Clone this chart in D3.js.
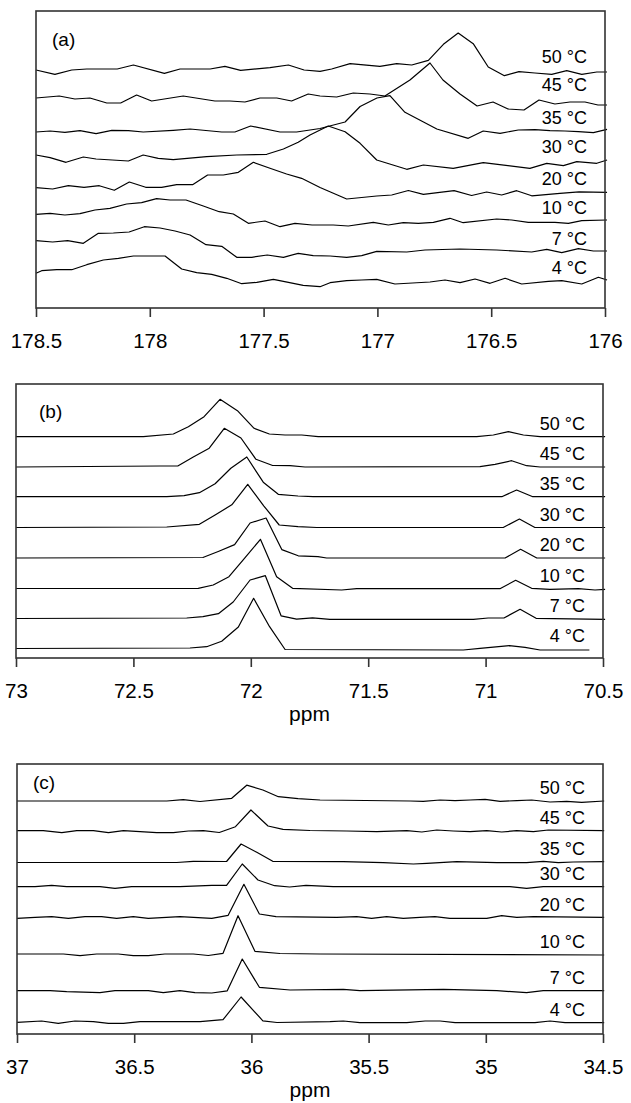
<!DOCTYPE html>
<html>
<head>
<meta charset="utf-8">
<script src="https://cdn.jsdelivr.net/npm/d3@7"></script>
<style>
  body { margin: 0; background: #fff; }
  svg text { font-family: "Liberation Sans", Arial, sans-serif; fill: #000; }
</style>
</head>
<body>
<svg id="chart"></svg>
<script>
var width = 631,
    height = 1103;

// temperature of each trace, top to bottom
var temps = ["50 °C", "45 °C", "35 °C", "30 °C", "20 °C", "10 °C", "7 °C", "4 °C"];

// ---- panel (a): ppm 178.5 .. 176
var ticksA = [178.5, 178, 177.5, 177, 176.5, 176];
var offsetsA = [238, 210, 177, 148, 116, 87, 56, 27];
var a50 = [[178.5,0],[178.417,-4.3],[178.343,0],[178.277,1],[178.143,1],[178.072,5],[177.936,-3.3],[177.867,1],[177.735,1],[177.67,3.7],[177.601,-0.3],[177.472,2.3],[177.391,5],[177.322,0],[177.252,-1.3],[177.201,1],[177.12,6.3],[176.989,3.7],[176.915,6.3],[176.849,5],[176.776,9.7],[176.71,25.7],[176.645,37],[176.579,26.3],[176.513,3],[176.442,-5.7],[176.378,-1.7],[176.308,-3],[176.234,-4.3],[176.168,-0.7],[176.102,-4.3],[176.036,-2],[175.991,-2]];
var a45 = [[178.5,0],[178.398,2],[178.329,-1],[178.263,0],[178.189,-5],[178.128,-5],[178.058,3],[177.992,-3],[177.853,2],[177.714,-3],[177.648,-3],[177.582,-4],[177.516,0],[177.442,0],[177.377,-3],[177.304,4],[177.252,2],[177.179,1],[177.106,5],[177.033,4],[176.967,2],[176.857,18],[176.769,35],[176.712,18],[176.637,4],[176.562,-8],[176.492,-4],[176.426,-11],[176.356,-12],[176.29,-2],[176.22,-6],[176.154,-4],[176.088,-4],[176.031,-7],[175.991,-7]];
var a35 = [[178.5,-1],[178.438,0],[178.373,-1.3],[178.307,0.3],[178.236,-2.7],[178.167,0.7],[178.094,0.3],[178.029,-1],[177.897,0.7],[177.823,2],[177.684,-1],[177.626,-1],[177.557,5],[177.428,-1],[177.355,-1],[177.252,2.5],[177.142,9],[177.076,24.5],[177.002,33],[176.945,35.3],[176.879,18.7],[176.739,2],[176.601,-7.3],[176.535,0],[176.461,-2.3],[176.381,1],[176.308,1.3],[176.242,0.3],[176.176,0],[176.117,-0.7],[176.051,-1.7],[175.991,1.7]];
var a30 = [[178.5,5],[178.438,2.3],[178.368,-2.3],[178.292,3],[178.236,1],[178.094,-1],[178.029,5],[177.963,1.7],[177.897,0.3],[177.75,3.3],[177.618,5],[177.486,5.7],[177.413,11],[177.348,17.7],[177.296,25],[177.216,34],[177.142,28.3],[177.076,16.7],[177.003,0],[176.871,-9.3],[176.798,-5],[176.667,-8.3],[176.535,-2.7],[176.33,-8.3],[176.256,-3.3],[176.183,-5.7],[176.124,-1.7],[176.036,-3.3],[175.991,0]];
var a20 = [[178.5,4.3],[178.427,3],[178.358,6.3],[178.289,4.7],[178.222,6.3],[178.156,1.7],[178.09,10],[178.018,4.7],[177.948,4.7],[177.882,7.3],[177.812,7.3],[177.746,17],[177.677,17],[177.611,19.7],[177.545,29.7],[177.472,23.7],[177.399,18],[177.333,13.7],[177.252,4.5],[177.135,-7],[177.003,-4],[176.937,-3],[176.864,1.5],[176.798,-2.3],[176.663,1.3],[176.586,-3.5],[176.52,0],[176.454,-3],[176.388,1.3],[176.322,-3.8],[176.198,-1.3],[176.114,0.2],[175.991,-0.3]];
var a10 = [[178.5,6.7],[178.438,7.7],[178.373,6],[178.307,7.3],[178.241,11],[178.175,12.7],[178.102,17],[178.036,18.3],[177.97,22.3],[177.911,21],[177.841,21],[177.765,15],[177.695,9.3],[177.633,7],[177.567,-2.3],[177.494,0],[177.428,-5.7],[177.362,-2.3],[177.287,-4],[177.194,-4],[177.128,-5],[177.018,-1.3],[176.952,-4],[176.886,-1.7],[176.82,-2.3],[176.754,-1.3],[176.681,2.7],[176.623,-1.7],[176.476,2],[176.41,1],[176.337,-1.3],[176.22,-1.3],[176.161,-2.3],[176.102,0.3],[175.991,1]];
var a7 = [[178.5,11.3],[178.427,10],[178.361,11.3],[178.292,8.7],[178.226,18.7],[178.16,19],[178.091,20],[178.024,25.3],[177.955,24],[177.889,21],[177.823,17],[177.753,7.3],[177.684,5.7],[177.618,-5.3],[177.552,-5.3],[177.484,-3],[177.413,-5.3],[177.348,-1.3],[177.282,-3.7],[177.208,-4],[177.135,-5.3],[177.069,-3.7],[177.003,0.7],[176.871,0],[176.791,2],[176.637,3],[176.476,2],[176.322,0],[176.256,2.7],[176.19,-0.7],[176.117,3.3],[176.051,1],[175.991,1]];
var a4 = [[178.5,7.7],[178.475,10.3],[178.409,11.3],[178.343,11.3],[178.277,16.3],[178.204,21],[178.138,22.7],[178.072,25],[177.933,25],[177.86,12],[177.794,8.3],[177.728,6.7],[177.662,2.7],[177.596,-2.7],[177.53,-1.3],[177.457,1.7],[177.391,-1.3],[177.326,-4.3],[177.252,-5.7],[177.208,-1.7],[177.135,0.3],[177.069,1],[177.003,1.7],[176.923,-3],[176.769,-1],[176.703,1],[176.637,-1.7],[176.571,2],[176.505,-2.3],[176.439,2.7],[176.366,-3],[176.249,-0.3],[176.19,0.3],[176.102,-3],[176.029,3.7],[175.991,1]];

// ---- panel (b): ppm 73 .. 70.5
var ticksB = [73, 72.5, 72, 71.5, 71, 70.5];
var offsetsB = [221.3, 191, 161.3, 130.5, 100, 69.5, 39.5, 9];
var b50 = [[73,0],[72.458,0],[72.33,2.7],[72.266,10],[72.199,20],[72.131,37.4],[72.057,26],[71.986,8.4],[71.921,2.7],[71.854,1.7],[71.783,1.7],[71.713,0],[71.038,0],[70.967,1.7],[70.903,5],[70.839,1.7],[70.768,0],[70.491,0]];
var b45 = [[73,0],[72.387,1],[72.311,1],[72.245,10],[72.177,18.8],[72.113,38.7],[72.042,29],[71.978,7.7],[71.907,1.5],[71.833,1.3],[71.769,0],[71.024,0.3],[70.96,2.7],[70.889,6.3],[70.825,1.3],[70.768,0],[70.491,0]];
var b35 = [[73,0],[72.358,0],[72.284,1],[72.219,4],[72.152,13],[72.085,28.4],[72.017,39.7],[71.947,14.5],[71.883,2.4],[71.799,0.7],[71.734,0],[70.931,0],[70.868,6.7],[70.799,0],[70.491,0]];
var b30 = [[73,0],[72.358,0.5],[72.219,3.2],[72.152,12.5],[72.081,22.7],[72.013,43.2],[71.945,21.7],[71.879,2.5],[71.799,0.8],[71.719,0],[70.925,0],[70.856,8.5],[70.79,0],[70.491,0]];
var b20 = [[73,0],[72.204,0.5],[72.136,6.8],[72.069,13.4],[72.003,35],[71.935,40],[71.868,8.4],[71.798,2.2],[71.714,1.3],[71.677,0],[70.917,0],[70.851,8.7],[70.782,0],[70.491,0]];
var b10 = [[73,0],[72.224,0.2],[72.16,3.5],[72.093,11.8],[72.027,30.2],[71.959,49.2],[71.89,11.8],[71.822,0.2],[71.613,-1.5],[71.549,-0.2],[70.939,-0.2],[70.872,8.2],[70.804,0.2],[70.726,-0.8],[70.605,-0.2],[70.534,-1.5],[70.491,-0.8]];
var b7 = [[73,0],[72.273,0.5],[72.204,1.8],[72.138,4.8],[72.075,16.5],[72.003,38.5],[71.938,42.8],[71.871,2.7],[71.805,-0.7],[71.737,0.7],[71.663,-0.8],[71.052,-0.8],[70.989,0.5],[70.922,0.5],[70.853,9.2],[70.785,0.2],[70.491,-0.8]];
var b4 = [[73,0.5],[72.259,1],[72.188,2.3],[72.124,7.7],[72.053,22],[71.988,50.7],[71.92,22.3],[71.854,-0.5],[71.095,-1],[71.024,0.7],[70.899,3.3],[70.832,1.7],[70.768,-1],[70.558,-1]];

// ---- panel (c): ppm 37 .. 34.5
var ticksC = [37, 36.5, 36, 35.5, 35, 34.5];
var offsetsC = [233.5, 203.3, 172, 147.3, 116, 79.5, 43.3, 11.5];
var c50 = [[37,-0.5],[36.361,-0.5],[36.291,0.8],[36.219,-1],[36.084,2.2],[36.02,15.3],[35.951,10.5],[35.885,3.8],[35.801,1.8],[35.707,0.5],[35.323,-0.5],[35.267,-0.8],[35.195,0.5],[35.131,-0.2],[35.067,0.5],[35.003,1.2],[34.939,-0.8],[34.868,-0.2],[34.804,0.5],[34.726,-1.5],[34.655,-0.8],[34.591,-1.8],[34.495,-0.5]];
var c45 = [[37,0],[36.888,0],[36.809,-2],[36.745,0],[36.674,0],[36.61,-2],[36.546,0],[36.404,-2],[36.333,-2],[36.269,-0.3],[36.205,0],[36.137,-1.8],[36.068,4],[36.002,20.7],[35.929,4.7],[35.865,1.4],[35.75,0.2],[35.593,-0.3],[35.465,-1],[35.337,0],[35.273,-1.3],[35.209,0.7],[35.139,-0.3],[35.067,-1],[34.996,0],[34.932,-1.3],[34.868,0],[34.797,-1],[34.733,0.7],[34.495,0]];
var c35 = [[37,-0.5],[36.319,-0.5],[36.248,0.7],[36.106,0.5],[36.044,18],[35.977,9.7],[35.909,0.7],[35.608,0.3],[35.437,-0.7],[35.309,-2],[35.252,-1.3],[35.124,0.3],[34.953,-0.7],[34.826,-0.7],[34.755,0.7],[34.691,-0.7],[34.627,0],[34.495,0.3]];
var c30 = [[37,0],[36.923,0],[36.852,1.4],[36.788,0],[36.646,0],[36.582,-1.6],[36.511,0],[36.305,0],[36.169,1.4],[36.106,1.4],[36.039,22.7],[35.972,6.7],[35.901,1],[35.837,-0.3],[35.767,1.4],[35.651,0],[34.897,0],[34.826,-1.6],[34.755,0],[34.495,0]];
var c20 = [[37,-0.3],[36.923,0.7],[36.852,1.3],[36.781,-0.3],[36.71,1.3],[36.639,1.3],[36.575,-0.3],[36.504,1.3],[36.44,-0.3],[36.305,1.3],[36.169,-0.3],[36.099,2.7],[36.032,33.7],[35.966,4],[35.895,1.3],[35.636,0.7],[35.551,1.3],[35.487,-0.3],[35.423,1.3],[35.352,-0.3],[35.281,0.7],[35.217,1.3],[35.153,-0.3],[34.996,-0.3],[34.932,2.3],[34.868,0.7],[34.797,1.3],[34.495,0.7]];
var c10 = [[37,0.5],[36.802,0.5],[36.731,-1.2],[36.66,0.5],[36.568,0.5],[36.504,-1.2],[36.44,-1.2],[36.369,0.5],[36.248,0.5],[36.184,-1],[36.121,1.2],[36.057,38.8],[35.985,3.2],[35.878,1],[35.707,0.5],[34.495,-0.5]];
var c7 = [[37,0],[36.859,0],[36.788,-1],[36.646,-2],[36.582,0],[36.44,0],[36.376,-2],[36.305,0],[36.241,-2],[36.169,-2.3],[36.103,-0.1],[36.039,31.7],[35.966,3.4],[35.835,0.7],[35.608,1.4],[35.537,0],[35.181,1.4],[34.953,0],[34.826,-2],[34.755,0],[34.495,0]];
var c4 = [[37,0.2],[36.895,1.5],[36.824,-0.8],[36.753,1.5],[36.674,0.8],[36.61,-0.8],[36.546,-0.8],[36.475,0.8],[36.219,0.8],[36.121,2.8],[36.044,25.5],[35.951,1.7],[35.891,0],[35.665,0.8],[35.608,1.5],[35.537,-0.2],[35.337,-0.2],[35.259,1.5],[35.195,1.5],[35.131,-0.2],[34.79,-0.2],[34.726,1.5],[34.662,-0.2],[34.495,-0.2]];

// layout of the three stacked panels
var panels = [
  {letter: "(a)", left: 36, right: 605, top: 11, bottom: 308, domain: [178.5, 176],
   ticks: ticksA, offsets: offsetsA, traces: [a50, a45, a35, a30, a20, a10, a7, a4],
   letterX: 16, letterY: 35, ppm: false},
  {letter: "(b)", left: 16, right: 603, top: 384, bottom: 658, domain: [73, 70.5],
   ticks: ticksB, offsets: offsetsB, traces: [b50, b45, b35, b30, b20, b10, b7, b4],
   letterX: 23, letterY: 34, ppm: true},
  {letter: "(c)", left: 17, right: 603, top: 764, bottom: 1034, domain: [37, 34.5],
   ticks: ticksC, offsets: offsetsC, traces: [c50, c45, c35, c30, c20, c10, c7, c4],
   letterX: 16, letterY: 25, ppm: true}
];

var svg = d3.select("#chart")
    .attr("width", width)
    .attr("height", height);

svg.append("rect")
    .attr("width", width)
    .attr("height", height)
    .attr("fill", "#fff");

panels.forEach(function(p) {
  var x = d3.scaleLinear().domain(p.domain).range([p.left, p.right]);
  var y = d3.scaleLinear().domain([0, p.bottom - p.top]).range([p.bottom, p.top]);

  var g = svg.append("g");

  // traces
  p.traces.forEach(function(trace, i) {
    var off = p.offsets[i];
    var line = d3.line()
        .x(function(d) { return x(d[0]); })
        .y(function(d) { return y(d[1] + off); });

    g.append("path")
        .datum(trace)
        .attr("d", line)
        .attr("fill", "none")
        .attr("stroke", "#000")
        .attr("stroke-width", 1.2)
        .attr("stroke-linejoin", "round");

    g.append("text")
        .attr("x", p.right - 18)
        .attr("y", y(off) - 7)
        .attr("text-anchor", "end")
        .style("font-size", "18px")
        .text(temps[i]);
  });

  // frame
  g.append("rect")
      .attr("x", p.left)
      .attr("y", p.top)
      .attr("width", p.right - p.left)
      .attr("height", p.bottom - p.top)
      .attr("fill", "none")
      .attr("stroke", "#333")
      .attr("stroke-width", 1.6);

  // bottom axis
  var ax = g.append("g")
      .attr("transform", "translate(0," + p.bottom + ")")
      .call(d3.axisBottom(x)
          .tickValues(p.ticks)
          .tickSize(9)
          .tickSizeOuter(0)
          .tickFormat(d3.format("~g")));

  ax.select(".domain").remove();
  ax.selectAll(".tick line")
      .attr("stroke", "#333")
      .attr("stroke-width", 1.6);
  ax.selectAll(".tick text")
      .attr("y", 40)
      .attr("dy", 0)
      .style("font-size", "20.5px")
      .style("font-family", "'Liberation Sans', Arial, sans-serif")
      .attr("fill", "#000");

  g.append("text")
      .attr("x", p.left + p.letterX)
      .attr("y", p.top + p.letterY)
      .style("font-size", "19px")
      .text(p.letter);

  if (p.ppm) {
    g.append("text")
        .attr("x", (p.left + p.right) / 2)
        .attr("y", p.bottom + 63)
        .attr("text-anchor", "middle")
        .style("font-size", "21px")
        .text("ppm");
  }
});
</script>
</body>
</html>
